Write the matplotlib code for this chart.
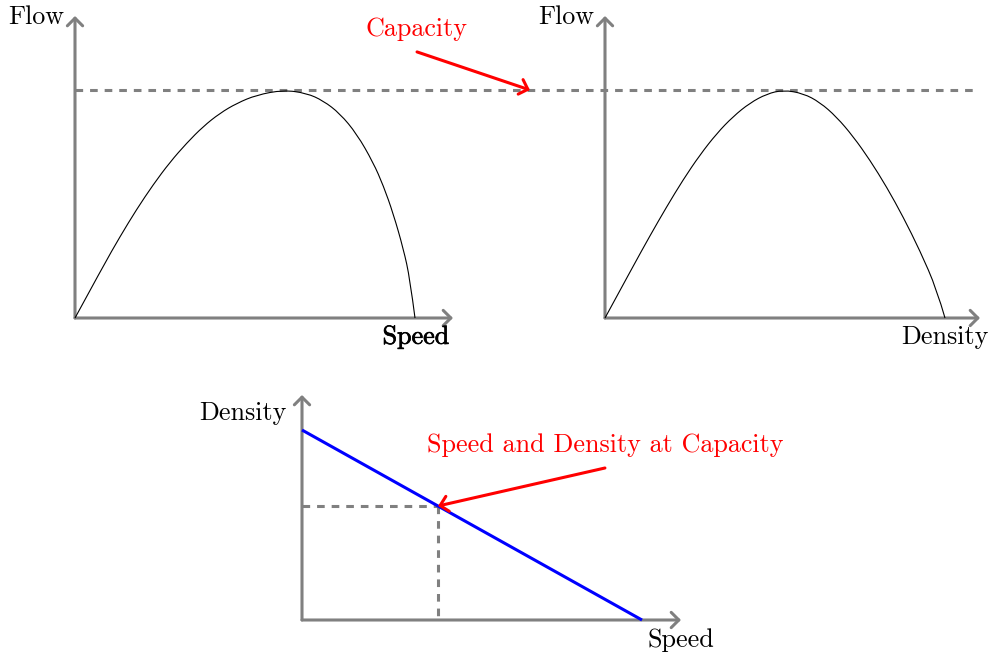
import matplotlib
matplotlib.use("Agg")
import matplotlib.pyplot as plt
from matplotlib.patches import FancyArrowPatch, ArrowStyle, PathPatch
from matplotlib.path import Path
import matplotlib.patheffects as pe

plt.rcParams['lines.scale_dashes'] = False

# ---------------- data ----------------
# Flow vs Speed (normalised: speed 0..1, flow 0..1 where 1 = capacity)
fs_speed = [0.000, 0.083, 0.132, 0.181, 0.230, 0.279, 0.329, 0.377, 0.426, 0.476,
            0.534, 0.613, 0.681, 0.730, 0.779, 0.829, 0.877, 0.907, 0.936, 0.966,
            0.985, 1.000]
fs_flow = [0.000, 0.228, 0.356, 0.476, 0.585, 0.683, 0.768, 0.840, 0.898, 0.942,
           0.978, 1.000, 0.986, 0.953, 0.897, 0.807, 0.682, 0.580, 0.458, 0.302,
           0.173, 0.000]
# Flow vs Density
fd_density = [0.000, 0.083, 0.132, 0.181, 0.230, 0.279, 0.329, 0.377, 0.426, 0.476,
              0.524, 0.583, 0.632, 0.681, 0.730, 0.779, 0.829, 0.877, 0.926, 0.976,
              1.000]
fd_flow = [0.000, 0.228, 0.360, 0.487, 0.607, 0.715, 0.810, 0.884, 0.943, 0.983,
           1.000, 0.985, 0.946, 0.882, 0.796, 0.693, 0.573, 0.443, 0.296, 0.125,
           0.000]
# Density vs Speed (linear)
ds_speed = [0.0, 1.0]
ds_density = [1.0, 0.0]
capacity_flow = 1.0
capacity_speed = 0.4
capacity_density = 0.6

GRAY = '#808080'
RED = '#ff0000'
BLUE = '#0000ff'
FONT = 'cmr10'
FS = 18.8

W, H = 990, 655
fig = plt.figure(figsize=(W / 100, H / 100), dpi=100)


def make_axes(x0, y0, sx, sy, xr, yt):
    """x0,y0: pixel of data origin; sx,sy: pixels per unit; xr, yt: pixel of arrow tips."""
    xmax = (xr - x0) / sx
    ymax = (y0 - yt) / sy
    ax = fig.add_axes([x0 / W, (H - y0) / H, (xr - x0) / W, (y0 - yt) / H])
    ax.set_xlim(0, xmax)
    ax.set_ylim(0, ymax)
    ax.axis('off')
    style = ArrowStyle('->', head_length=0.55, head_width=0.55)
    for (a, b) in [((0, 0), (xmax, 0)), ((0, 0), (0, ymax))]:
        ax.add_patch(FancyArrowPatch(a, b, arrowstyle=style, mutation_scale=10,
                                     color=GRAY, lw=2.2, shrinkA=0, shrinkB=0,
                                     clip_on=False, zorder=3))
    return ax


def red_arrow(ax, start, end):
    style = ArrowStyle('->', head_length=0.55, head_width=0.55)
    ax.add_patch(FancyArrowPatch(start, end, arrowstyle=style, mutation_scale=10,
                                 color=RED, lw=2.2, shrinkA=0, shrinkB=0,
                                 clip_on=False, zorder=5))


def smooth_curve(ax, xs, ys, **kw):
    """Draw a smooth quadratic-Bezier path using the read points as control points."""
    pts = list(zip(xs, ys))
    verts = [pts[0]]
    codes = [Path.MOVETO]
    n = len(pts)
    for i in range(1, n - 1):
        ctrl = pts[i]
        if i < n - 2:
            end = ((pts[i][0] + pts[i + 1][0]) / 2, (pts[i][1] + pts[i + 1][1]) / 2)
        else:
            end = pts[n - 1]
        verts += [ctrl, end]
        codes += [Path.CURVE3, Path.CURVE3]
    ax.add_patch(PathPatch(Path(verts, codes), fill=False, clip_on=False, **kw))


# ---------- top left: flow vs speed ----------
ax1 = make_axes(75, 318, 340, 228, 453, 16)
smooth_curve(ax1, fs_speed, fs_flow, edgecolor='black', lw=0.8, zorder=4)
ln, = ax1.plot([0, 2.656], [capacity_flow, capacity_flow], color=GRAY, lw=2.2,
               clip_on=False, zorder=2)
ln.set_dashes((5.5, 5.0))
ax1.text(-0.032, 1.320, 'Flow', ha='right', va='center', fontfamily=FONT, fontsize=FS)
ax1.text(1.003, -0.083, 'Speed', ha='center', va='center', fontfamily=FONT, fontsize=FS,
         path_effects=[pe.withStroke(linewidth=0.5, foreground='black')])
ax1.text(1.003, 1.268, 'Capacity', ha='center', va='center', fontfamily=FONT,
         fontsize=FS, color=RED)
red_arrow(ax1, (1.006, 1.167), (1.338, 1.0))

# ---------- top right: flow vs density ----------
ax2 = make_axes(605, 318, 340, 228, 980, 16)
smooth_curve(ax2, fd_density, fd_flow, edgecolor='black', lw=0.8, zorder=4)
ax2.text(-0.032, 1.320, 'Flow', ha='right', va='center', fontfamily=FONT, fontsize=FS)
ax2.text(1.0, -0.083, 'Density', ha='center', va='center', fontfamily=FONT, fontsize=FS)

# ---------- bottom: density vs speed ----------
ax3 = make_axes(302, 620, 340, 190, 681, 395)
ax3.plot(ds_speed, ds_density, color=BLUE, lw=2.2, clip_on=False, zorder=4,
         solid_capstyle='butt')
l1, = ax3.plot([0, capacity_speed], [capacity_density, capacity_density], color=GRAY,
               lw=2.2, clip_on=False, zorder=2)
l2, = ax3.plot([capacity_speed, capacity_speed], [capacity_density, 0], color=GRAY,
               lw=2.2, clip_on=False, zorder=2)
l1.set_dashes((5.5, 5.0))
l2.set_dashes((5.5, 5.0))
ax3.text(-0.044, 1.089, 'Density', ha='right', va='center', fontfamily=FONT, fontsize=FS)
ax3.text(1.115, -0.105, 'Speed', ha='center', va='center', fontfamily=FONT, fontsize=FS)
ax3.text(0.891, 0.921, 'Speed and Density at Capacity', ha='center', va='center',
         fontfamily=FONT, fontsize=FS, color=RED)
red_arrow(ax3, (0.891, 0.80), (capacity_speed, capacity_density))

fig.savefig('out.png', dpi=100, facecolor='white')
